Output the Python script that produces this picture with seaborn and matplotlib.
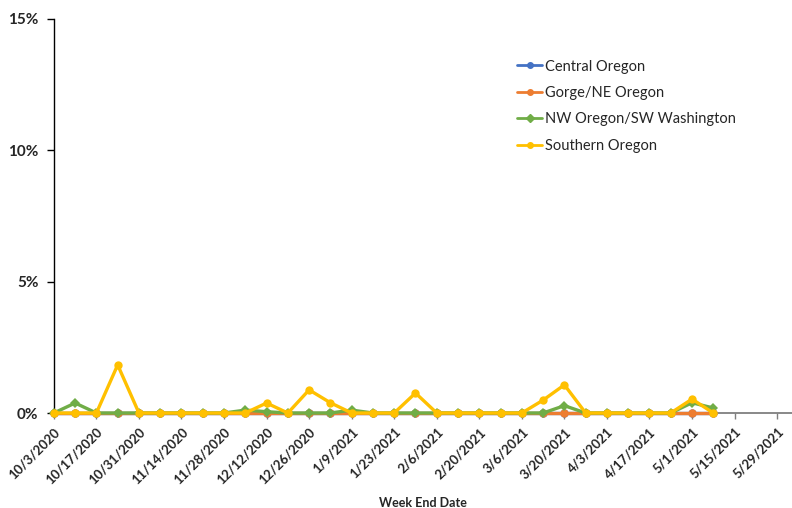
import pandas as pd
import matplotlib.pyplot as plt
import seaborn as sns
from matplotlib.ticker import FuncFormatter
from matplotlib.lines import Line2D

# weekly data (share of specimens, %), week end dates 10/3/2020 .. 5/8/2021
weeks = ["10/3/2020", "10/10/2020", "10/17/2020", "10/24/2020", "10/31/2020",
         "11/7/2020", "11/14/2020", "11/21/2020", "11/28/2020", "12/5/2020",
         "12/12/2020", "12/19/2020", "12/26/2020", "1/2/2021", "1/9/2021",
         "1/16/2021", "1/23/2021", "1/30/2021", "2/6/2021", "2/13/2021",
         "2/20/2021", "2/27/2021", "3/6/2021", "3/13/2021", "3/20/2021",
         "3/27/2021", "4/3/2021", "4/10/2021", "4/17/2021", "4/24/2021",
         "5/1/2021", "5/8/2021"]

central = [0.0] * 32
gorge = [0.0] * 32
nw_oregon = [0, 0.38, 0, 0, 0, 0, 0, 0, 0, 0.11, 0.05, 0, 0, 0, 0.11, 0,
             0, 0, 0, 0, 0, 0, 0, 0, 0.28, 0, 0, 0, 0, 0, 0.39, 0.19]
southern = [0, 0, 0, 1.83, 0, 0, 0, 0, 0, 0, 0.38, 0, 0.88, 0.39, 0, 0,
            0, 0.76, 0, 0, 0, 0, 0, 0.49, 1.07, 0, 0, 0, 0, 0, 0.53, 0]

tick_labels = ["10/3/2020", "10/17/2020", "10/31/2020", "11/14/2020", "11/28/2020",
               "12/12/2020", "12/26/2020", "1/9/2021", "1/23/2021", "2/6/2021",
               "2/20/2021", "3/6/2021", "3/20/2021", "4/3/2021", "4/17/2021",
               "5/1/2021", "5/15/2021", "5/29/2021"]

regions = ["Central Oregon", "Gorge/NE Oregon", "NW Oregon/SW Washington", "Southern Oregon"]
colors = ["#4472C4", "#ED7D31", "#70AD47", "#FFC000"]
markers = ["o", "o", "D", "o"]
series = [central, gorge, nw_oregon, southern]

sns.set_style("white")
plt.rcParams["font.family"] = ["Lato", "DejaVu Sans"]

fig = plt.figure(figsize=(7.92, 5.08), dpi=100)
ax = fig.add_axes([0.068, 0.187, 0.932, 0.776])

# draw one region at a time so later series sit on top (Excel order)
for i, (name, vals, c, m) in enumerate(zip(regions, series, colors, markers)):
    d = pd.DataFrame({"week": range(len(weeks)), "pct": vals})
    sns.lineplot(data=d, x="week", y="pct", color=c, marker=m, linewidth=2.4,
                 markersize=6 if m == "o" else 4.6, markeredgewidth=0,
                 clip_on=False, zorder=3 + i, ax=ax)

ax.set_xlim(0, 34.7)
ax.set_ylim(0, 15)
ax.set_yticks([0, 5, 10, 15])
ax.yaxis.set_major_formatter(FuncFormatter(lambda v, p: f"{v:.0f}%"))
ax.set_xticks(range(0, 35, 2))
ax.set_xticklabels(tick_labels, rotation=45, ha="right", rotation_mode="anchor",
                   fontsize=9.5, fontweight="bold", color="#262626")
for t in ax.get_yticklabels():
    t.set_fontsize(11)
    t.set_fontweight("bold")

for s in ["top", "right"]:
    ax.spines[s].set_visible(False)
ax.spines["left"].set_color("black")
ax.spines["left"].set_linewidth(1.0)
ax.spines["bottom"].set_color("#7f7f7f")
ax.spines["bottom"].set_linewidth(1.3)
ax.tick_params(axis="y", length=5, width=1, color="black", left=True, pad=6)
ax.tick_params(axis="x", length=4, width=1, color="#7f7f7f", bottom=True, pad=5)

ax.set_ylabel("")
ax.set_xlabel("Week End Date", fontsize=9, fontweight="bold", color="#262626", labelpad=8)

handles = [Line2D([0], [0], color=c, marker=m, markersize=4, linewidth=2)
           for c, m in zip(colors, markers)]
ax.legend(handles, regions, loc="upper left", bbox_to_anchor=(0.61, 0.93),
          frameon=False, fontsize=10.5, handlelength=1.7, handletextpad=0.2,
          labelspacing=0.85)

fig.savefig("out.png", dpi=100)
